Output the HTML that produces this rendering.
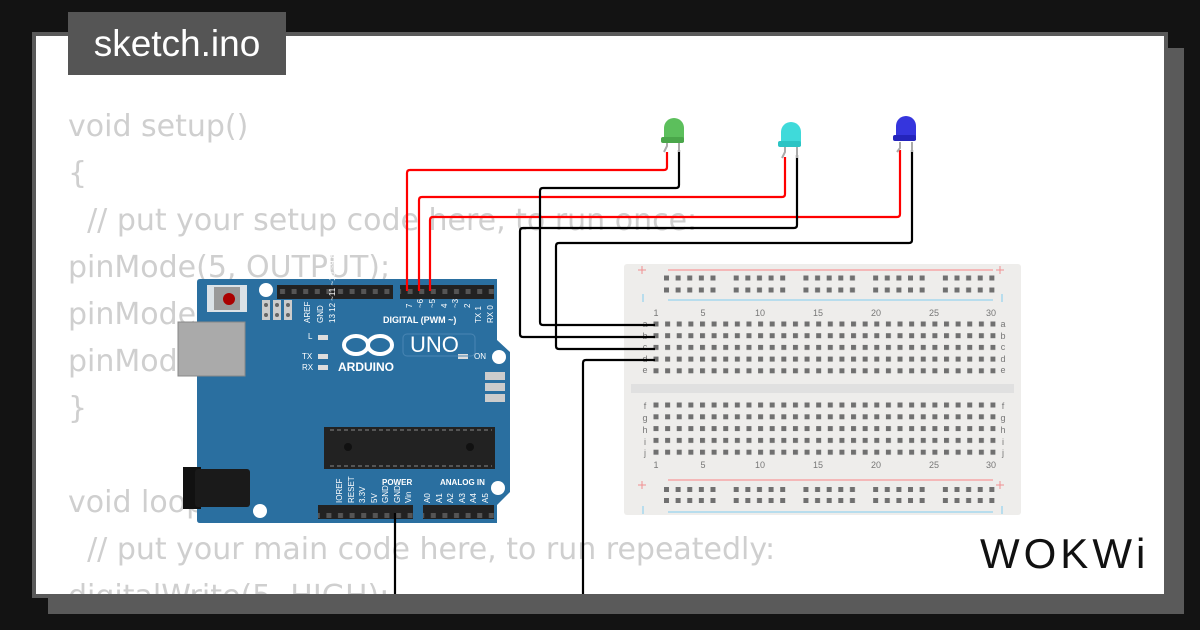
<!DOCTYPE html>
<html><head><meta charset="utf-8"><style>
html,body{margin:0;padding:0;width:1200px;height:630px;overflow:hidden;background:#131313;}
#shadow{position:absolute;left:48px;top:48px;width:1136px;height:566px;background:#5a5a5a;}
#panel{position:absolute;left:32px;top:32px;width:1128px;height:558px;border:4px solid #5a5a5a;background:#fff;overflow:hidden;}
#code{position:absolute;left:32px;top:67px;font-family:"DejaVu Sans",sans-serif;font-size:30px;line-height:47px;color:#cfcfcf;white-space:pre;margin:0;}
#tab{position:absolute;left:68px;top:12px;width:218px;height:63px;background:#555;color:#fff;font-family:"Liberation Sans",sans-serif;font-size:37px;line-height:63px;text-align:center;}
svg{position:absolute;left:0;top:0;}
</style></head><body>
<div id="shadow"></div>
<div id="panel"><pre id="code">void setup()
{
  // put your setup code here, to run once:
pinMode(5, OUTPUT);
pinMode(6, OUTPUT);
pinMode(7, OUTPUT);
}

void loop() {
  // put your main code here, to run repeatedly:
digitalWrite(5, HIGH);</pre></div>
<div id="tab">sketch.ino</div>
<svg width="1200" height="630" viewBox="0 0 1200 630" font-family="Liberation Sans, sans-serif">
<defs>
<pattern id="h" x="653.5" y="321.5" width="11.62" height="11.7" patternUnits="userSpaceOnUse"><rect width="5" height="5" fill="#707070"/></pattern>
<pattern id="h2" x="653.5" y="402.5" width="11.62" height="11.8" patternUnits="userSpaceOnUse"><rect width="5" height="5" fill="#707070"/></pattern>
<pattern id="r" x="664" y="275.5" width="69.72" height="12" patternUnits="userSpaceOnUse"><g fill="#707070"><rect x="0" width="5" height="5"/><rect x="11.62" width="5" height="5"/><rect x="23.24" width="5" height="5"/><rect x="34.86" width="5" height="5"/><rect x="46.48" width="5" height="5"/></g></pattern>
<pattern id="r2" x="664" y="487" width="69.72" height="11" patternUnits="userSpaceOnUse"><g fill="#707070"><rect x="0" width="5" height="5"/><rect x="11.62" width="5" height="5"/><rect x="23.24" width="5" height="5"/><rect x="34.86" width="5" height="5"/><rect x="46.48" width="5" height="5"/></g></pattern>
<pattern id="pin" x="277" y="285" width="11.6" height="14" patternUnits="userSpaceOnUse"><rect width="11.6" height="14" fill="#222"/><rect x="3" y="4" width="5" height="5" fill="#555"/></pattern>
</defs>
<rect x="624" y="264" width="397" height="251" rx="3" fill="#eeedeb"/>
<rect x="631" y="384" width="383" height="9" fill="#e0e0e0"/>
<line x1="668" y1="270" x2="993" y2="270" stroke="#f5a7a7" stroke-width="1.5"/>
<line x1="668" y1="300" x2="993" y2="300" stroke="#a6d8ee" stroke-width="1.5"/>
<line x1="668" y1="480" x2="993" y2="480" stroke="#f5a7a7" stroke-width="1.5"/>
<line x1="668" y1="512" x2="993" y2="512" stroke="#a6d8ee" stroke-width="1.5"/>
<g stroke="#f09090" stroke-width="1"><path d="M638 270h8M642 266v8M996 270h8M1000 266v8M638 485h8M642 481v8M996 485h8M1000 481v8"/></g>
<g stroke="#a6d8ee" stroke-width="1.5"><path d="M643 294v8M1002 294v8M643 506v8M1002 506v8"/></g>
<rect x="664" y="275.5" width="345" height="17" fill="url(#r)"/>
<rect x="664" y="487" width="345" height="16" fill="url(#r2)"/>
<rect x="653.5" y="321.5" width="342" height="57" fill="url(#h)"/>
<rect x="653.5" y="402.5" width="342" height="57" fill="url(#h2)"/>
<g font-size="9" fill="#777" text-anchor="middle">
<text x="656" y="316">1</text><text x="703" y="316">5</text><text x="760" y="316">10</text><text x="818" y="316">15</text><text x="876" y="316">20</text><text x="934" y="316">25</text><text x="991" y="316">30</text>
<text x="656" y="468">1</text><text x="703" y="468">5</text><text x="760" y="468">10</text><text x="818" y="468">15</text><text x="876" y="468">20</text><text x="934" y="468">25</text><text x="991" y="468">30</text>
<text x="645" y="327">a</text><text x="645" y="339">b</text><text x="645" y="350">c</text><text x="645" y="362">d</text><text x="645" y="373">e</text>
<text x="1003" y="327">a</text><text x="1003" y="339">b</text><text x="1003" y="350">c</text><text x="1003" y="362">d</text><text x="1003" y="373">e</text>
<text x="645" y="409">f</text><text x="645" y="421">g</text><text x="645" y="433">h</text><text x="645" y="445">i</text><text x="645" y="456">j</text>
<text x="1003" y="409">f</text><text x="1003" y="421">g</text><text x="1003" y="433">h</text><text x="1003" y="445">i</text><text x="1003" y="456">j</text>
</g>
<path d="M200 279H497V340L510 352V492L497 505V523H200Q197 523 197 520V282Q197 279 200 279Z" fill="#2a6fa0"/>
<rect x="178" y="322" width="67" height="54" fill="#aaa" stroke="#888"/>
<rect x="183" y="467" width="18" height="42" fill="#111"/><rect x="195" y="469" width="55" height="38" rx="3" fill="#1a1a1a"/>
<rect x="207" y="285" width="40" height="27" fill="#eee" opacity="0.9"/><rect x="214" y="287" width="26" height="23" fill="#999"/><circle cx="229" cy="299" r="6" fill="#a00"/>
<g fill="#fff"><circle cx="266" cy="290" r="7"/><circle cx="260" cy="511" r="7"/><circle cx="498" cy="488" r="7"/><circle cx="499" cy="357" r="7"/></g>
<g fill="#ccc"><rect x="262" y="300" width="8" height="20"/><rect x="273" y="300" width="8" height="20"/><rect x="284" y="300" width="8" height="20"/></g>
<g fill="#666"><circle cx="266" cy="305" r="2"/><circle cx="266" cy="315" r="2"/><circle cx="277" cy="305" r="2"/><circle cx="277" cy="315" r="2"/><circle cx="288" cy="305" r="2"/><circle cx="288" cy="315" r="2"/></g>
<g fill="#ccc"><rect x="485" y="372" width="20" height="8"/><rect x="485" y="383" width="20" height="8"/><rect x="485" y="394" width="20" height="8"/></g>
<rect x="277" y="285" width="116" height="14" fill="url(#pin)"/>
<rect x="400" y="285" width="94" height="14" fill="url(#pin)"/>
<rect x="318" y="505" width="95" height="14" fill="url(#pin)"/>
<rect x="423" y="505" width="71" height="14" fill="url(#pin)"/>
<rect x="324" y="427" width="171" height="42" fill="#222"/>
<g fill="#111"><circle cx="348" cy="447" r="4"/><circle cx="470" cy="447" r="4"/></g>
<line x1="330" y1="430" x2="492" y2="430" stroke="#888" stroke-dasharray="4,3"/>
<line x1="330" y1="466" x2="492" y2="466" stroke="#888" stroke-dasharray="4,3"/>
<g fill="#fff" font-size="8">
<text x="383" y="323" font-weight="bold" font-size="9">DIGITAL (PWM ~)</text>
<text transform="translate(310,323) rotate(-90)">AREF</text>
<text transform="translate(323,323) rotate(-90)">GND</text>
<text transform="translate(335,323) rotate(-90)">13  12  ~11 ~10 ~9  8</text>
<text transform="translate(412,308) rotate(-90)">7</text><text transform="translate(423,308) rotate(-90)">~6</text><text transform="translate(435,308) rotate(-90)">~5</text><text transform="translate(447,308) rotate(-90)">4</text><text transform="translate(458,308) rotate(-90)">~3</text><text transform="translate(470,308) rotate(-90)">2</text>
<text transform="translate(481,323) rotate(-90)">TX 1</text><text transform="translate(493,323) rotate(-90)">RX 0</text>
<text x="308" y="339">L</text><text x="302" y="359">TX</text><text x="302" y="370">RX</text><text x="474" y="359">ON</text>
<text x="338" y="371" font-weight="bold" font-size="12">ARDUINO</text>
<text x="410" y="352" font-size="22">UNO</text>
<text x="382" y="485" font-weight="bold">POWER</text><text x="440" y="485" font-weight="bold">ANALOG IN</text>
<text transform="translate(342,503) rotate(-90)">IOREF</text><text transform="translate(354,503) rotate(-90)">RESET</text><text transform="translate(365,503) rotate(-90)">3.3V</text><text transform="translate(377,503) rotate(-90)">5V</text><text transform="translate(388,503) rotate(-90)">GND</text><text transform="translate(400,503) rotate(-90)">GND</text><text transform="translate(411,503) rotate(-90)">Vin</text>
<text transform="translate(430,503) rotate(-90)">A0</text><text transform="translate(442,503) rotate(-90)">A1</text><text transform="translate(453,503) rotate(-90)">A2</text><text transform="translate(465,503) rotate(-90)">A3</text><text transform="translate(476,503) rotate(-90)">A4</text><text transform="translate(488,503) rotate(-90)">A5</text>
</g>
<g fill="#ddd"><rect x="318" y="335" width="10" height="5"/><rect x="318" y="354" width="10" height="5"/><rect x="318" y="365" width="10" height="5"/><rect x="458" y="354" width="10" height="5"/></g>
<rect x="403" y="334" width="72" height="22" rx="4" fill="none" stroke="#4a86b3"/>
<g fill="none" stroke="#fff" stroke-width="4"><ellipse cx="356" cy="345" rx="12" ry="9"/><ellipse cx="380" cy="345" rx="12" ry="9"/></g>
<g fill="none" stroke-width="2.2" stroke-linejoin="round">
<path d="M407 291V173Q407 170 410 170H664Q667 170 667 167V152" stroke="#f00"/>
<path d="M419 291V200Q419 197 422 197H782Q785 197 785 194V157" stroke="#f00"/>
<path d="M430 291V220Q430 217 433 217H897Q900 217 900 214V150" stroke="#f00"/>
<path d="M679 150V185Q679 188 676 188H543Q540 188 540 191V322Q540 325 543 325H655" stroke="#000"/>
<path d="M797 155V225Q797 228 794 228H523Q520 228 520 231V334Q520 337 523 337H655" stroke="#000"/>
<path d="M912 150V240Q912 243 909 243H559Q556 243 556 246V346Q556 349 559 349H655" stroke="#000"/>
<path d="M655 360H586Q583 360 583 363V594" stroke="#000"/>
<path d="M395 513V594" stroke="#000"/>
</g>
<g stroke="#aaa" stroke-width="2" fill="none"><path d="M679 140V152M667 140V146L664 152M797 147V158M785 147V152L782 158M912 142V152M900 142V148L897 152"/></g>
<path d="M664 128a10 10 0 0 1 20 0v14h-20z" fill="#5cbf5c"/><rect x="661" y="137" width="23" height="6" rx="2" fill="#4aa64a"/>
<path d="M781 132a10 10 0 0 1 20 0v14h-20z" fill="#3fdada"/><rect x="778" y="141" width="23" height="6" rx="2" fill="#2cc4c4"/>
<path d="M896 126a10 10 0 0 1 20 0v14h-20z" fill="#3535dd"/><rect x="893" y="135" width="23" height="6" rx="2" fill="#2424bb"/>
<text x="980" y="568" font-size="42" font-family="Liberation Sans, sans-serif" letter-spacing="4" fill="#111">WOKWi</text>
</svg>
</body></html>
